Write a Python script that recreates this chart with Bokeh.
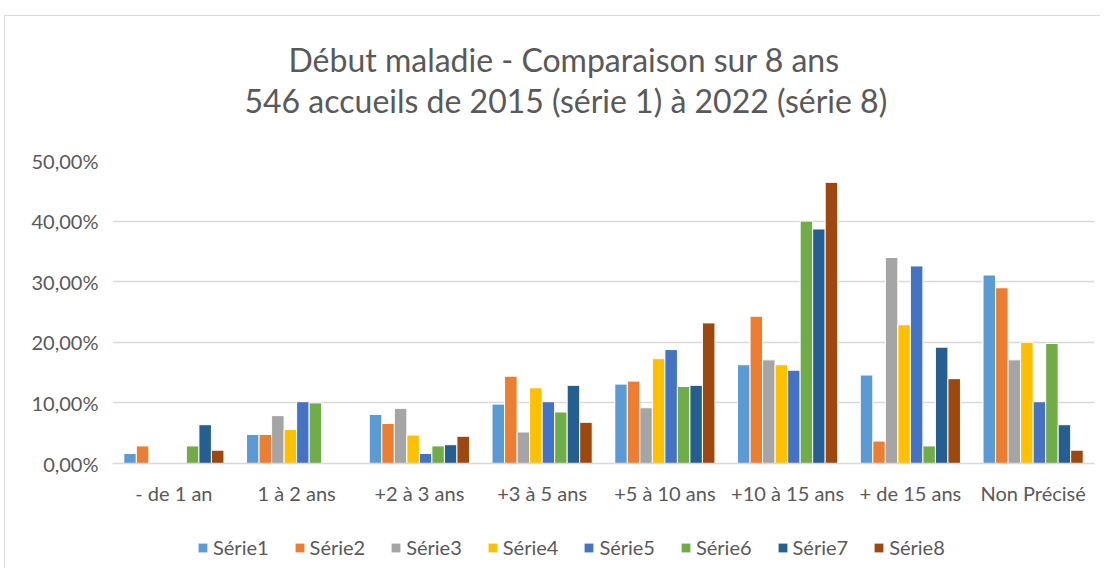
from bokeh.plotting import figure
from bokeh.layouts import column
from bokeh.models import Range1d, FixedTicker, Title, Legend, LegendItem
from bokeh.transform import dodge
from bokeh.embed import file_html
from bokeh.resources import INLINE
from bokeh.models import ColumnDataSource

categories = ["- de 1 an", "1 à 2 ans", "+2 à 3 ans", "+3 à 5 ans",
              "+5 à 10 ans", "+10 à 15 ans", "+ de 15 ans", "Non Précisé"]
serie1 = [1.65, 4.8, 8.1, 9.8, 13.1, 16.3, 14.6, 31.1]
serie2 = [2.9, 4.8, 6.6, 14.4, 13.6, 24.3, 3.7, 29.0]
serie3 = [0.0, 7.9, 9.1, 5.2, 9.2, 17.1, 34.0, 17.1]
serie4 = [0.0, 5.6, 4.7, 12.5, 17.3, 16.3, 22.9, 20.0]
serie5 = [0.0, 10.2, 1.65, 10.2, 18.8, 15.4, 32.6, 10.2]
serie6 = [2.9, 10.0, 2.9, 8.5, 12.7, 40.0, 2.9, 19.8]
serie7 = [6.4, 0.0, 3.1, 12.9, 12.9, 38.7, 19.2, 6.4]
serie8 = [2.2, 0.0, 4.5, 6.8, 23.2, 46.4, 14.0, 2.2]
series_names = ["Série1", "Série2", "Série3", "Série4", "Série5", "Série6", "Série7", "Série8"]
y_ticks = [0, 10, 20, 30, 40, 50]
y_tick_labels = ["0,00%", "10,00%", "20,00%", "30,00%", "40,00%", "50,00%"]
title_line1 = "Début maladie - Comparaison sur 8 ans"
title_line2 = "546 accueils de 2015 (série 1) à 2022 (série 8)"

colors = ["#5B9BD5", "#ED7D31", "#A5A5A5", "#FFC000", "#4472C4", "#70AD47", "#255E91", "#9E480E"]
FONT = "Lato"
TXT = "#595959"

data = {"cat": categories}
all_series = [serie1, serie2, serie3, serie4, serie5, serie6, serie7, serie8]
for name, s in zip(series_names, all_series):
    data[name] = s
source = ColumnDataSource(data)

W, H = 1095, 512
BL, BR, BT, BB = 107, 6, 144, 65
p = figure(x_range=categories, y_range=Range1d(0, 50), width=W, height=H,
           output_backend="svg", toolbar_location=None,
           min_border_left=BL, min_border_right=BR, min_border_top=BT, min_border_bottom=BB)
p.outline_line_color = None
p.background_fill_color = "white"

pitch = 0.102
for i, (name, col) in enumerate(zip(series_names, colors)):
    p.vbar(x=dodge("cat", (i - 3.5) * pitch, range=p.x_range), top=name, width=pitch,
           source=source, fill_color=col, line_color="white", line_width=1)

# axes
p.yaxis.ticker = FixedTicker(ticks=y_ticks)
p.yaxis.major_label_overrides = {t: l for t, l in zip(y_ticks, y_tick_labels)}
p.yaxis.axis_line_color = None
p.yaxis.major_tick_line_color = None
p.yaxis.minor_tick_line_color = None
p.yaxis.major_tick_out = 0
p.yaxis.major_tick_in = 0
p.yaxis.major_label_standoff = 14
p.yaxis.major_label_text_font = FONT
p.yaxis.major_label_text_font_size = "20px"
p.yaxis.major_label_text_color = TXT

p.xaxis.axis_line_color = "#d9d9d9"
p.xaxis.axis_line_width = 1.5
p.xaxis.major_tick_line_color = None
p.xaxis.major_tick_out = 0
p.xaxis.major_tick_in = 0
p.xaxis.major_label_standoff = 17
p.xaxis.major_label_text_font = FONT
p.xaxis.major_label_text_font_size = "20px"
p.xaxis.major_label_text_color = TXT

p.xgrid.grid_line_color = None
p.ygrid.grid_line_color = "#d9d9d9"
p.ygrid.grid_line_width = 1.5
p.ygrid.ticker = FixedTicker(ticks=y_ticks)

# titles: the first panel added "above" sits next to the plot area, p.title is outermost
p.add_layout(Title(text=" ", text_font_size="1px", standoff=38), "above")  # spacer
p.add_layout(Title(text=title_line2, align="left", offset=132, standoff=0,
                   text_font=FONT, text_font_size="32px", text_color=TXT,
                   text_font_style="normal"), "above")
p.title = Title(text=title_line1, align="left", offset=176, standoff=0,
                text_font=FONT, text_font_size="32px", text_color=TXT, text_font_style="normal")

# legend in its own strip below the chart
q = figure(width=W, height=40, output_backend="svg", toolbar_location=None,
           x_axis_type=None, y_axis_type=None, min_border=0,
           x_range=Range1d(0, 1), y_range=Range1d(0, 1))
q.outline_line_color = None
q.xgrid.grid_line_color = None
q.ygrid.grid_line_color = None
items = []
for name, col in zip(series_names, colors):
    r = q.vbar(x=[0], top=[0], width=0, fill_color=col, line_color=None)
    items.append(LegendItem(label=name, renderers=[r]))
legend = Legend(items=items, orientation="horizontal", location=(85, 9),
                glyph_width=11, glyph_height=11, label_standoff=5, spacing=25,
                label_text_font=FONT, label_text_font_size="20px", label_text_color=TXT,
                border_line_color=None, background_fill_alpha=0, margin=0, padding=0)
q.add_layout(legend, "center")

layout = column(p, q, spacing=0, margin=(15, 0, 0, 4),
                styles={"border-top": "1px solid #d9d9d9", "border-left": "1px solid #d9d9d9"})
open("out.html", "w").write(file_html(layout, INLINE))
